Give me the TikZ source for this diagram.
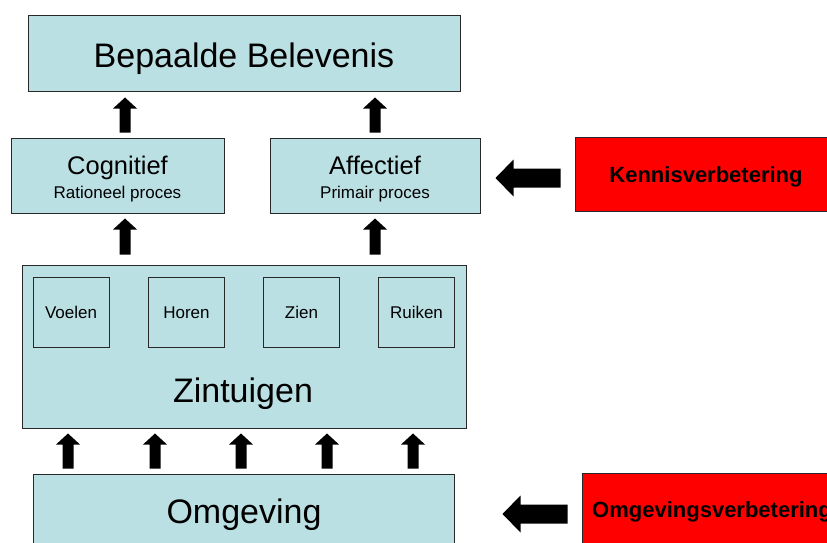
\documentclass[tikz,border=0pt]{standalone}
\usepackage{fontspec}
\setmainfont{Liberation Sans}
\usetikzlibrary{calc}

\definecolor{panelblue}{RGB}{187,224,227}
\definecolor{alertred}{RGB}{255,0,0}
\definecolor{edgegray}{RGB}{40,40,40}

% Filled block arrow from tail #1 to tip #2:
% #3 half shaft width, #4 half head width, #5 head length
\newcommand{\blockarrow}[5]{%
  \coordinate (ba-s) at #1;
  \coordinate (ba-e) at #2;
  \coordinate (ba-b) at ($(ba-e)!#5!(ba-s)$);
  \fill[black] ($(ba-s)!#3!90:(ba-e)$) -- ($(ba-b)!#3!-90:(ba-s)$)
    -- ($(ba-b)!#4!-90:(ba-s)$) -- (ba-e) -- ($(ba-b)!#4!90:(ba-s)$)
    -- ($(ba-b)!#3!90:(ba-s)$) -- ($(ba-s)!#3!-90:(ba-e)$) -- cycle;}

\tikzset{
  panel/.style={rectangle, draw=edgegray, line width=1pt, fill=panelblue, inner sep=0pt},
  alertbox/.style={rectangle, draw=edgegray, line width=1pt, fill=alertred, inner sep=0pt},
  sense/.style={panel, minimum width=76pt, minimum height=70pt,
    text height=12pt, text depth=0pt, font=\fontsize{17}{20}\selectfont},
  txt/.style={inner sep=0pt, anchor=base},
  bigtxt/.style={txt, font=\fontsize{34}{40}\selectfont},
  midtxt/.style={txt, font=\fontsize{25.5}{30}\selectfont},
  smalltxt/.style={txt, font=\fontsize{17}{20}\selectfont},
  alerttxt/.style={txt, font=\bfseries\fontsize{22}{26}\selectfont},
}

\begin{document}
\begin{tikzpicture}[x=1pt, y=-1pt]
  \useasboundingbox (0,0) rectangle (827,543);
  \clip (0,0) rectangle (827,543);
  \fill[white] (0,0) rectangle (827,543);

  % top level
  \node[panel, minimum width=432pt, minimum height=75pt] (bep) at (244,53.5) {};
  \node[bigtxt] (bepT) at (244,67) {Bepaalde Belevenis};

  % processing level
  \node[panel, minimum width=213pt, minimum height=75pt] (cog) at (117.5,175.5) {};
  \node[midtxt] (cogT) at (117.5,174) {Cognitief};
  \node[smalltxt] (cogS) at (117.5,198) {Rationeel proces};

  \node[panel, minimum width=210pt, minimum height=75pt] (aff) at (375,175.5) {};
  \node[midtxt] (affT) at (375,174) {Affectief};
  \node[smalltxt] (affS) at (375,198) {Primair proces};

  \node[alertbox, minimum width=261pt, minimum height=74pt] (ken) at (705.5,174) {};
  \node[alerttxt] (kenT) at (706,182) {Kennisverbetering};

  % senses
  \node[panel, minimum width=444pt, minimum height=163pt] (zin) at (244,346.5) {};
  \node[sense] (voelen) at (71,312) {Voelen};
  \node[sense] (horen) at (186.5,312) {Horen};
  \node[sense] (zien) at (301.5,312) {Zien};
  \node[sense] (ruiken) at (416.5,312) {Ruiken};
  \node[bigtxt] (zinT) at (243,402) {Zintuigen};

  % environment
  \node[panel, minimum width=421pt, minimum height=78pt] (omg) at (243.5,513) {};
  \node[bigtxt] (omgT) at (244,523) {Omgeving};

  \node[alertbox, minimum width=260pt, minimum height=78pt] (omv) at (712,512) {};
  \node[alerttxt, anchor=base west] (omvT) at (592,517) {Omgevingsverbetering};

  % vertical arrows
  \blockarrow{($(cog.north)+(7.5,-5)$)}{($(bep.south)+(-119,6)$)}{5.5pt}{12pt}{11pt}
  \blockarrow{($(aff.north)+(0,-5)$)}{($(bep.south)+(131,6)$)}{5.5pt}{12pt}{11pt}
  \blockarrow{($(zin.north)+(-119,-10)$)}{($(cog.south)+(7.5,5)$)}{5.5pt}{12pt}{11pt}
  \blockarrow{($(zin.north)+(131,-10)$)}{($(aff.south)+(0,5)$)}{5.5pt}{12pt}{11pt}
  \foreach \dx in {-175.5,-88.5,-2.5,83.5,169.5} {
    \coordinate (tail) at ($(omg.north)+(\dx,-5)$);
    \blockarrow{(tail)}{($(tail |- zin.south)+(0,5)$)}{5.5pt}{12pt}{11pt}
  }

  % horizontal arrows
  \blockarrow{($(ken.west)+(-14,4)$)}{($(aff.east)+(15,2.5)$)}{9.5pt}{18.5pt}{18pt}
  \blockarrow{($(omv.west)+(-14,2)$)}{($(omg.east)+(48,1)$)}{9.5pt}{18.5pt}{18pt}
\end{tikzpicture}
\end{document}
